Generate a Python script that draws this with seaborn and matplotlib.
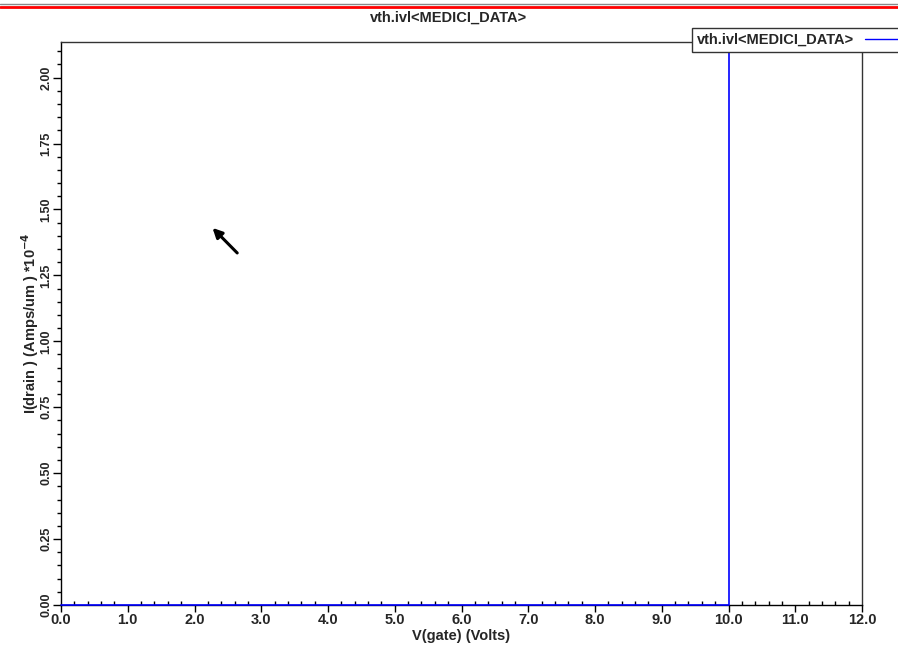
import matplotlib
matplotlib.use("Agg")
import matplotlib.pyplot as plt
from matplotlib.lines import Line2D
from matplotlib.ticker import MultipleLocator, FormatStrFormatter
import seaborn as sns
import pandas as pd

# ---- data ----
vgate = [0.0, 1.0, 2.0, 3.0, 4.0, 5.0, 6.0, 7.0, 8.0, 9.0, 10.0, 10.0]
idrain = [0.0, 0.0, 0.0, 0.0, 0.0, 0.0, 0.0, 0.0, 0.0, 0.0, 0.0, 2.135]  # units of 1e-4 A/um
series_name = "vth.ivl<MEDICI_DATA>"
title = "vth.ivl<MEDICI_DATA>"
xlabel = "V(gate) (Volts)"
ylabel = r"I(drain ) (Amps/um ) *10$^{-4}$"

df = pd.DataFrame({"V(gate)": vgate, "I(drain)": idrain, "series": series_name})

sns.set_style("white")
plt.rcParams["font.family"] = ["Liberation Sans", "DejaVu Sans"]
plt.rcParams["mathtext.fontset"] = "custom"
plt.rcParams["mathtext.rm"] = "Liberation Sans:bold"
plt.rcParams["mathtext.it"] = "Liberation Sans:bold"
plt.rcParams["mathtext.default"] = "bf"

fig = plt.figure(figsize=(8.98, 6.5), dpi=100)
ax = fig.add_axes([61 / 898, 1 - 605 / 650, (862 - 61) / 898, (605 - 42) / 650])

sns.lineplot(data=df, x="V(gate)", y="I(drain)", hue="series", palette=["#0000ff"],
             sort=False, estimator=None, linewidth=1.2, ax=ax, legend=False)
for ln in ax.lines:
    ln.set_zorder(3)
    ln.set_clip_on(False)

ax.set_xlim(0, 12.0)
ax.set_ylim(0, 2.135)

ax.xaxis.set_major_locator(MultipleLocator(1.0))
ax.xaxis.set_minor_locator(MultipleLocator(0.2))
ax.yaxis.set_major_locator(MultipleLocator(0.25))
ax.yaxis.set_minor_locator(MultipleLocator(0.05))
ax.xaxis.set_major_formatter(FormatStrFormatter("%.1f"))
ax.yaxis.set_major_formatter(FormatStrFormatter("%.2f"))

ax.tick_params(axis="x", which="major", direction="out", length=5, width=1, color="black",
               labelsize=10.5, pad=1, bottom=True)
ax.tick_params(axis="x", which="minor", direction="in", length=3, width=1, color="black", bottom=True)
ax.tick_params(axis="y", which="major", direction="out", length=6, width=1, color="black",
               labelsize=9, pad=0, left=True, labelrotation=90)
ax.tick_params(axis="y", which="minor", direction="out", length=3, width=1, color="black", left=True)
for lab in ax.get_xticklabels() + ax.get_yticklabels():
    lab.set_fontweight("bold")
for lab in ax.get_yticklabels():
    lab.set_va("center")

ax.set_xlabel(xlabel, fontsize=10.5, fontweight="bold", labelpad=1)
ax.set_ylabel(ylabel, fontsize=10.5, fontweight="bold", labelpad=0)

for s in ax.spines.values():
    s.set_color("#333333")
    s.set_linewidth(1.0)
ax.spines["left"].set_color("black")
ax.spines["bottom"].set_color("black")

fig.suptitle(title, x=0.5, y=1 - 18 / 650, fontsize=10.5, fontweight="bold", va="center")

# legend box at top right
handle = Line2D([], [], color="#0000ff", linewidth=1.0)
leg = fig.legend([handle], [series_name], loc="upper left",
                 bbox_to_anchor=(692 / 898, 1 - 28 / 650), markerfirst=False,
                 frameon=True, fancybox=False, shadow=False, borderpad=0.35,
                 handlelength=2.6, handletextpad=0.75, borderaxespad=0,
                 prop={"weight": "bold", "size": 10.5})
leg.get_frame().set_edgecolor("#333333")
leg.get_frame().set_linewidth(1.0)
leg.get_frame().set_alpha(1)

# cursor arrow
ax.annotate("", xy=(2.27, 1.43), xytext=(2.64, 1.335),
            arrowprops=dict(arrowstyle="-|>", color="black", lw=2.2, mutation_scale=14,
                            shrinkA=0, shrinkB=0))

# header lines at the very top
fig.add_artist(Line2D([0, 1], [1 - 4 / 650, 1 - 4 / 650], color="#888888", linewidth=1.0,
                      transform=fig.transFigure))
fig.add_artist(Line2D([0, 1], [1 - 6.5 / 650, 1 - 6.5 / 650], color="#ff0000", linewidth=2.0,
                      transform=fig.transFigure))

fig.savefig("out.png", dpi=100)
